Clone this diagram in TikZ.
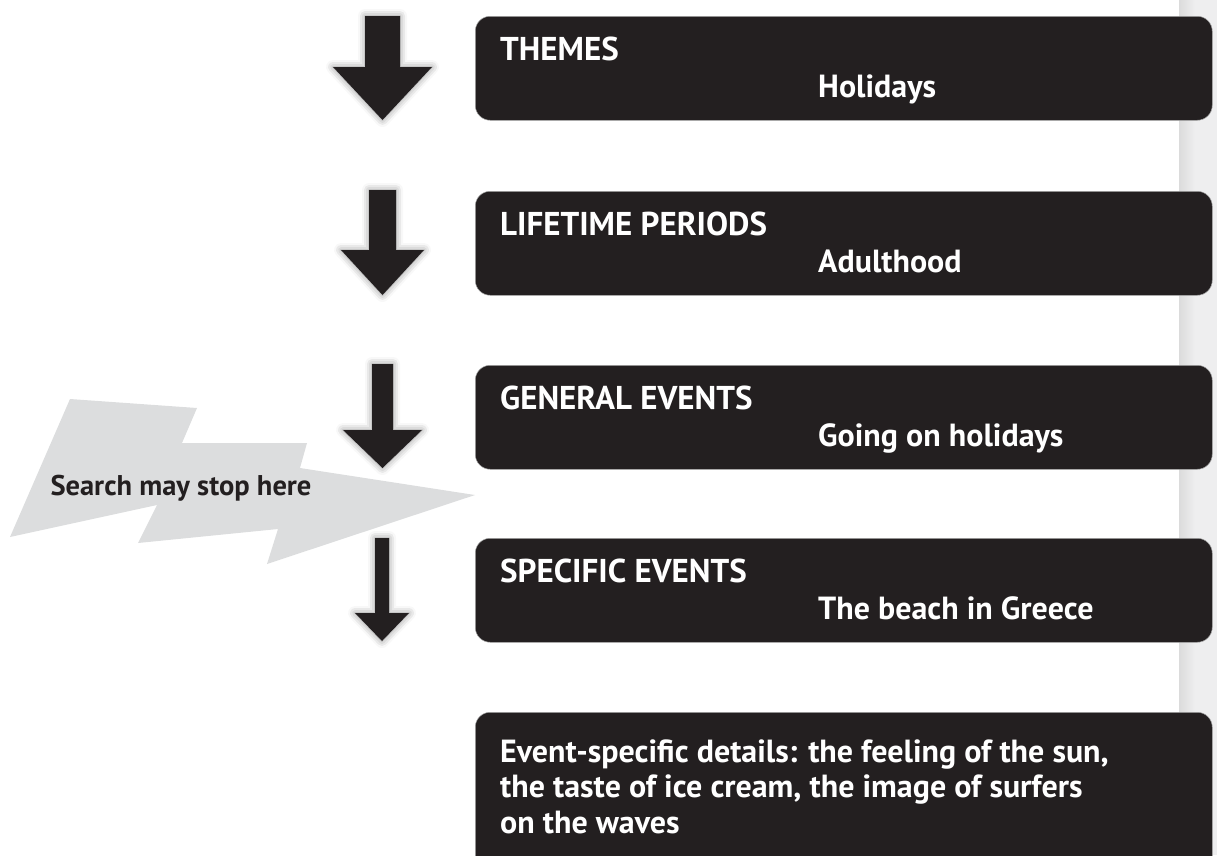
\documentclass[tikz,border=0pt]{standalone}
\usepackage{fontspec}
\setmainfont{PT Sans}
\usetikzlibrary{shadows.blur}
\definecolor{boxdark}{HTML}{231F20}
\definecolor{boltgrey}{HTML}{DCDDDE}
\definecolor{stripgrey}{HTML}{EEEEEF}

\begin{document}
\begin{tikzpicture}[x=1pt,y=-1pt,
	every node/.style={inner sep=0pt},
	stage/.style={fill=boxdark,draw=gray!70,line width=0.5pt,rounded corners=15pt,
		minimum width=737pt,minimum height=104pt,anchor=north west},
	level/.style={text=white,font=\fontsize{33}{38}\selectfont\bfseries,anchor=base west},
	cue/.style={level,font=\fontsize{32}{35.5}\selectfont\bfseries},
	pointer/.style={fill=boxdark,blur shadow={shadow xshift=0pt,shadow yshift=0pt,
		shadow blur radius=7pt,shadow opacity=45}}]
	\clip (0,0) rectangle (1217,855);
	% grey strip at the right edge
	\fill[stripgrey] (1179,0) rectangle (1217,855);
	\shade[left color=gray!28,right color=stripgrey] (1179,0) rectangle (1195,855);

	% the four levels
	\node[stage] (themes) at (475,16) {};
	\node[level] (themesT) at (500,60) {THEMES};
	\node[cue] (themesC) at (818,97) {Holidays};

	\node[stage] (periods) at (475,191) {};
	\node[level] (periodsT) at (500,235) {LIFETIME PERIODS};
	\node[cue] (periodsC) at (818,272) {Adulthood};

	\node[stage] (general) at (475,365) {};
	\node[level] (generalT) at (500,409) {GENERAL EVENTS};
	\node[cue] (generalC) at (818,446) {Going on holidays};

	\node[stage] (specific) at (475,538) {};
	\node[level] (specificT) at (500,582) {SPECIFIC EVENTS};
	\node[cue] (specificC) at (818,619) {The beach in Greece};

	\node[stage,minimum height=170pt] (details) at (475,712) {};
	% base is the last line here
	\node[cue,align=left] (detailsT) at (500,833)
		{Event-specific details: the feeling of the sun,\\
		the taste of ice cream, the image of surfers\\
		on the waves};

	% arrows, getting thinner
	\fill[pointer] (365,16) -- (400,16) -- (400,67) -- (432,67) -- (382.5,120)
		-- (333,67) -- (365,67) -- cycle;
	\fill[pointer] (369,190) -- (396,190) -- (396,250) -- (424,250) -- (382.5,295)
		-- (341,250) -- (369,250) -- cycle;
	\fill[pointer] (372,364) -- (393,364) -- (393,430) -- (422,430) -- (382.5,468)
		-- (343,430) -- (372,430) -- cycle;
	\fill[pointer] (375,538) -- (389,538) -- (389,613) -- (409,613) -- (382,641)
		-- (355,613) -- (375,613) -- cycle;

	% lightning bolt
	\fill[boltgrey] (70,399) -- (197,408) -- (182,443) -- (307,443) -- (300,468)
		-- (475,495) -- (267,564) -- (278,529) -- (138,543) -- (157,505)
		-- (10,537) -- cycle;
	\node[font=\fontsize{28.5}{30}\selectfont\bfseries,text=boxdark,anchor=base] (stop) at (181,495)
		{Search may stop here};
\end{tikzpicture}
\end{document}
